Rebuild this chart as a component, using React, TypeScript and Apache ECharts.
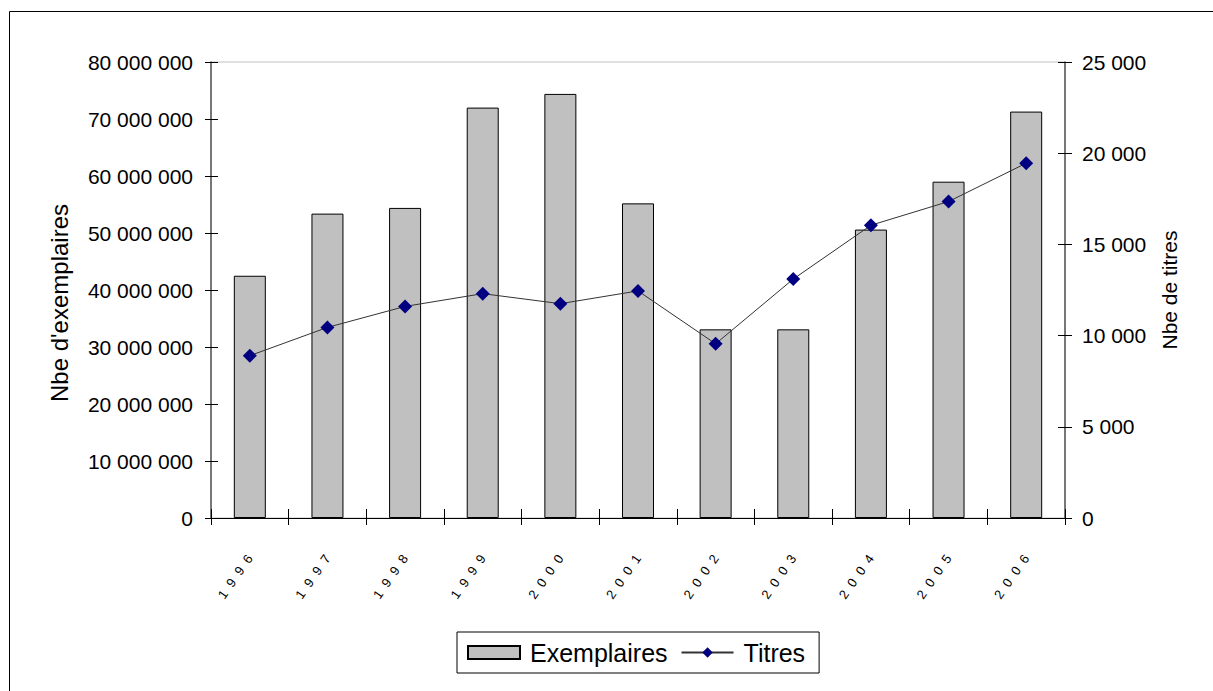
import React, { useEffect, useRef } from "react";
import * as echarts from "echarts";

// Years on the category axis
const years = ["1996", "1997", "1998", "1999", "2000", "2001", "2002", "2003", "2004", "2005", "2006"];
// Number of copies printed (left axis)
const exemplaires = [42500000, 53400000, 54400000, 72000000, 74400000, 55200000, 33100000, 33100000, 50600000, 59000000, 71300000];
// Number of titles (right axis)
const titres = [8900, 10450, 11600, 12300, 11750, 12450, 9550, 13100, 16050, 17350, 19450];

// Axis ranges
const leftMax = 80000000;
const leftStep = 10000000;
const rightMax = 25000;
const rightStep = 5000;

const FONT = "'Liberation Sans', Arial, sans-serif";

const groupThousands = (v: number) => String(v).replace(/\B(?=(\d{3})+(?!\d))/g, " ");
const spacedYear = (v: string) => v.split("").join("\u00a0\u00a0");

export default function App() {
  const ref = useRef<HTMLDivElement>(null);

  useEffect(() => {
    document.body.style.margin = "0";
    if (!ref.current) return;
    const chart = echarts.init(ref.current, null, { renderer: "svg" });

    const tickOnly = { show: false };

    chart.setOption({
      animation: false,
      backgroundColor: "#ffffff",
      textStyle: { fontFamily: FONT, color: "#000" },
      grid: {
        left: 211,
        right: 148,
        top: 62,
        bottom: 173,
        show: true,
        borderColor: "#c0c0c0",
        borderWidth: 1,
        backgroundColor: "transparent",
      },
      legend: {
        left: 457,
        top: 632,
        orient: "horizontal",
        padding: [8, 14, 8, 10],
        itemWidth: 52,
        itemHeight: 13,
        itemGap: 13,
        borderColor: "#000",
        borderWidth: 1,
        textStyle: { fontSize: 25, fontFamily: FONT, color: "#000", padding: [0, 0, 0, 5] },
        data: [{ name: "Exemplaires", icon: "rect" }, { name: "Titres" }],
      },
      xAxis: [
        {
          type: "category",
          data: years,
          position: "bottom",
          axisLine: { show: true, lineStyle: { color: "#000", width: 1 } },
          axisTick: { show: true, length: 7, lineStyle: { color: "#000" } },
          axisLabel: {
            rotate: 55,
            margin: 38,
            fontSize: 13,
            color: "#000",
            fontFamily: FONT,
            formatter: spacedYear,
          },
          splitLine: { show: false },
        },
        {
          type: "category",
          data: years,
          position: "bottom",
          axisLine: tickOnly,
          axisTick: { show: true, inside: true, length: 9, lineStyle: { color: "#000" } },
          axisLabel: { show: false },
          splitLine: { show: false },
        },
      ],
      yAxis: [
        {
          type: "value",
          position: "left",
          min: 0,
          max: leftMax,
          interval: leftStep,
          name: "Nbe d'exemplaires",
          nameLocation: "middle",
          nameGap: 140,
          nameTextStyle: { fontSize: 24, fontFamily: FONT, color: "#000", padding: [0, 26, 0, 0] },
          axisLine: { show: true, onZero: false, lineStyle: { color: "#555", width: 1.5 } },
          axisTick: { show: true, length: 6, lineStyle: { color: "#000" } },
          axisLabel: { fontSize: 21, margin: 18, color: "#000", fontFamily: FONT, formatter: groupThousands },
          splitLine: { show: false },
        },
        {
          type: "value",
          position: "right",
          min: 0,
          max: rightMax,
          interval: rightStep,
          name: "Nbe de titres",
          nameLocation: "middle",
          nameGap: 94,
          nameTextStyle: { fontSize: 21, fontFamily: FONT, color: "#000" },
          axisLine: { show: true, onZero: false, lineStyle: { color: "#555", width: 1.5 } },
          axisTick: { show: true, length: 7, lineStyle: { color: "#000" } },
          axisLabel: { fontSize: 21, margin: 17, color: "#000", fontFamily: FONT, formatter: groupThousands },
          splitLine: { show: false },
        },
        {
          type: "value",
          position: "left",
          min: 0,
          max: leftMax,
          interval: leftStep,
          axisLine: { show: false, onZero: false },
          axisTick: { show: true, inside: true, length: 7, lineStyle: { color: "#000" } },
          axisLabel: { show: false },
          splitLine: { show: false },
        },
        {
          type: "value",
          position: "right",
          min: 0,
          max: rightMax,
          interval: rightStep,
          axisLine: { show: false, onZero: false },
          axisTick: { show: true, inside: true, length: 7, lineStyle: { color: "#000" } },
          axisLabel: { show: false },
          splitLine: { show: false },
        },
      ],
      series: [
        {
          name: "Exemplaires",
          type: "bar",
          xAxisIndex: 0,
          yAxisIndex: 0,
          barWidth: 32,
          data: exemplaires,
          itemStyle: { color: "#c0c0c0", borderColor: "#000", borderWidth: 1 },
        },
        {
          name: "Titres",
          type: "line",
          xAxisIndex: 0,
          yAxisIndex: 1,
          data: titres,
          symbol: "diamond",
          symbolSize: 14,
          z: 5,
          itemStyle: { color: "#000080" },
          lineStyle: { color: "#333", width: 1 },
        },
      ],
      graphic: [
        {
          type: "rect",
          shape: { x: 9.5, y: 11.5, width: 1300, height: 800 },
          style: { fill: "none", stroke: "#000", lineWidth: 1 },
          silent: true,
        },
      ],
    });

    return () => chart.dispose();
  }, []);

  return <div ref={ref} style={{ width: 1213, height: 691 }} />;
}
